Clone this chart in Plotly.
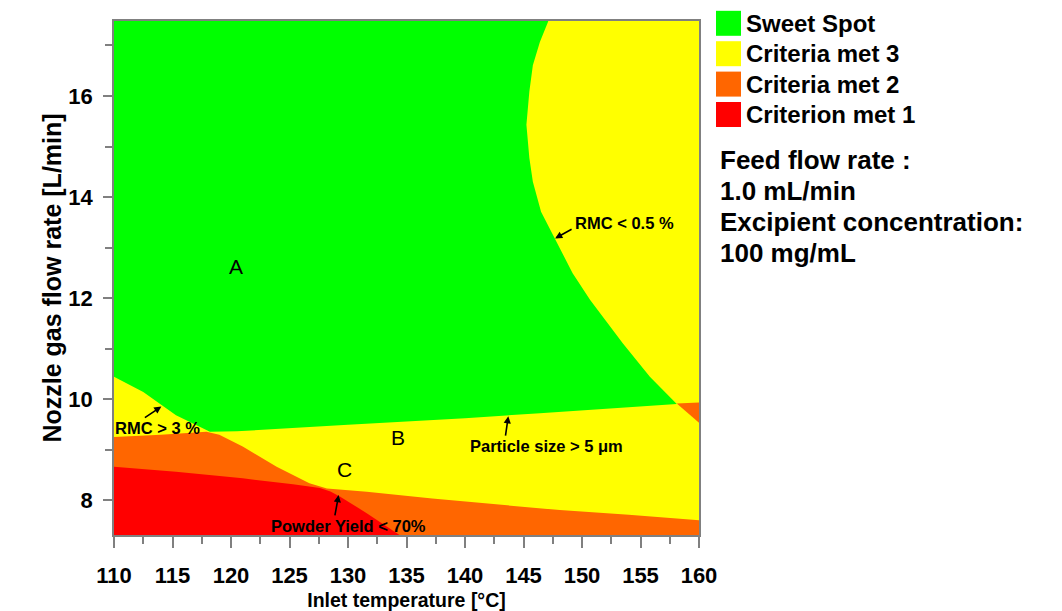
import plotly.graph_objects as go

# ---------------- data ----------------
x_range = [110, 160]
y_range = [7.307, 17.485]
x_ticks = [110, 115, 120, 125, 130, 135, 140, 145, 150, 155, 160]
y_ticks = [8, 10, 12, 14, 16]

categories = ["Sweet Spot", "Criteria met 3", "Criteria met 2", "Criterion met 1"]
cat_colors = ["#00FF00", "#FFFF00", "#FF6600", "#FF0000"]

# Criteria met 3 (yellow) fills the whole design space underneath
yellow_x = [110, 160, 160, 110]
yellow_y = [7.2, 7.2, 17.6, 17.6]

# Sweet spot (green) region boundary
green_x = [110, 110, 147.2, 147.1, 146.4, 145.8, 145.5, 145.25, 145.5, 145.8, 146.5,
           147.7, 149.2, 150.7, 153.5, 155.8, 158.1, 146.4, 140, 130, 120.5, 118.2,
           115.3, 112.5, 110]
green_y = [10.44, 17.6, 17.6, 17.47, 17.07, 16.61, 16.09, 15.43, 14.77, 14.30, 13.71,
           13.18, 12.49, 11.96, 11.10, 10.44, 9.90, 9.72, 9.62, 9.49, 9.36, 9.35,
           9.68, 10.14, 10.44]

# Criteria met 2 (orange) regions
orange_x = [110, 110, 114, 117.9, 119.0, 121.0, 123.9, 126.7, 128.2, 131.6, 137.2,
            143, 148.1, 154, 160, 160]
orange_y = [7.2, 9.25, 9.29, 9.35, 9.29, 9.06, 8.66, 8.33, 8.23, 8.165, 8.03,
            7.90, 7.80, 7.71, 7.60, 7.2]
orange2_x = [158.1, 160, 160]
orange2_y = [9.91, 9.93, 9.53]

# Criterion met 1 (red) region
red_x = [110, 110, 115.3, 121, 125.3, 127.6, 128.5, 129.3, 131.6, 134.4, 134.6]
red_y = [7.2, 8.66, 8.56, 8.43, 8.31, 8.24, 8.17, 8.07, 7.74, 7.307, 7.2]

# region letters
letters = ["A", "B", "C"]
letters_x = [120.4, 134.3, 129.7]
letters_y = [12.63, 9.23, 8.61]

# boundary labels: text, text position, arrow tip
labels = ["RMC < 0.5 %", "RMC > 3 %", "Particle size > 5 μm", "Powder Yield < 70%"]
labels_x = [153.6, 113.75, 147.0, 130.0]
labels_y = [13.49, 9.43, 9.06, 7.485]
tips_x = [147.7, 114.05, 143.7, 129.2]
tips_y = [13.18, 9.85, 9.66, 8.10]
tails_dx = [18, -18, -3, -4]     # arrow tail offset (px)
tails_dy = [-10, 12, 21, 22]

info_lines = ["Feed flow rate :", "1.0 mL/min", "Excipient concentration:", "100 mg/mL"]

# ---------------- figure ----------------
FONT = "Liberation Sans"
OFF = 8                      # page body margin
W, H = 1062 - OFF, 611 - OFF
fig = go.Figure()


def region(xs, ys, color):
    fig.add_trace(go.Scatter(x=xs, y=ys, fill="toself", fillcolor=color,
                             mode="lines", line=dict(width=0, color=color),
                             hoverinfo="skip", showlegend=False))


region(yellow_x, yellow_y, cat_colors[1])
region(green_x, green_y, cat_colors[0])
region(orange_x, orange_y, cat_colors[2])
region(orange2_x, orange2_y, cat_colors[2])
region(red_x, red_y, cat_colors[3])

for t, x, y in zip(letters, letters_x, letters_y):
    fig.add_annotation(x=x, y=y, text=t, showarrow=False,
                       font=dict(family=FONT, size=21, color="black"))

for t, x, y in zip(labels, labels_x, labels_y):
    fig.add_annotation(x=x, y=y, text=t, showarrow=False,
                       font=dict(family=FONT, size=16.5, color="black", weight="bold"))

for x, y, dx, dy in zip(tips_x, tips_y, tails_dx, tails_dy):
    fig.add_annotation(x=x, y=y, text="", showarrow=True, ax=dx, ay=dy,
                       arrowhead=2, arrowsize=0.9, arrowwidth=1.6, arrowcolor="black")

# plot-area edges in page pixels (reference)
L, R_, T, B = 114, 699, 21, 535
def px_x(p):
    return (p - L) / (R_ - L)
def px_y(p):
    return (B - p) / (B - T)

for i, (name, col) in enumerate(zip(categories, cat_colors)):
    cy = 23.3 + 30.4 * i
    fig.add_shape(type="rect", xref="paper", yref="paper",
                  x0=px_x(716), x1=px_x(741), y0=px_y(cy + 12.5), y1=px_y(cy - 12.5),
                  fillcolor=col, line=dict(width=0))
    fig.add_annotation(xref="paper", yref="paper", x=px_x(744), y=px_y(cy),
                       xanchor="left", yanchor="middle", text=name, showarrow=False,
                       font=dict(family=FONT, size=24, color="black", weight="bold"))

for i, line in enumerate(info_lines):
    cy = 160 + 31 * i
    fig.add_annotation(xref="paper", yref="paper", x=px_x(718), y=px_y(cy),
                       xanchor="left", yanchor="middle", text=line, showarrow=False,
                       font=dict(family=FONT, size=26, color="black", weight="bold"))

axis_common = dict(showline=True, linecolor="#808080", linewidth=1.5, mirror=True,
                   showgrid=False, zeroline=False, ticks="outside", automargin=False,
                   tickcolor="#808080", tickwidth=1.5,
                   tickfont=dict(family=FONT, size=22, color="black", weight="bold"))

fig.update_layout(
    width=W, height=H, autosize=False,
    margin=dict(l=L - OFF, r=W - (R_ - OFF), t=T - OFF, b=H - (B - OFF)),
    plot_bgcolor="white", paper_bgcolor="white", showlegend=False,
    xaxis=dict(range=x_range, tickvals=x_ticks, ticklen=11, ticklabelstandoff=9,
               minor=dict(ticks="outside", ticklen=7, dtick=2.5, tick0=110,
                          tickcolor="#808080", tickwidth=1.5),
               title=dict(text="Inlet temperature [°C]", standoff=10,
                          font=dict(family=FONT, size=19.5, color="black", weight="bold")),
               **axis_common),
    yaxis=dict(range=y_range, tickvals=y_ticks, ticklen=9, ticklabelstandoff=6,
               minor=dict(ticks="outside", ticklen=7, dtick=1, tick0=7,
                          tickcolor="#808080", tickwidth=1.5),
               title=dict(text="Nozzle gas flow rate [L/min]", standoff=0,
                          font=dict(family=FONT, size=25, color="black", weight="bold")),
               **axis_common),
)

fig.write_html("out.html")
